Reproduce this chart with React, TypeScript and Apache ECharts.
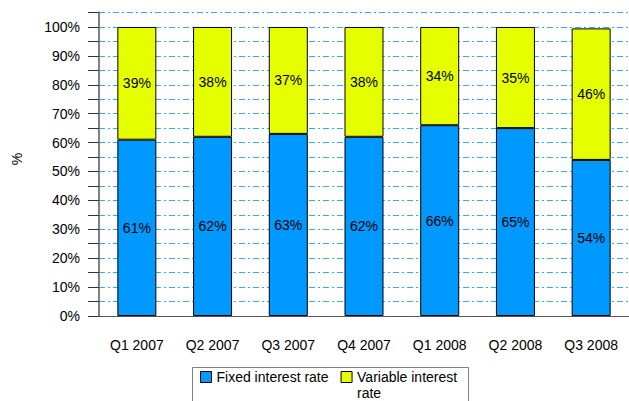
import React, { useEffect, useRef } from "react";
import * as echarts from "echarts";

const categories = ["Q1 2007", "Q2 2007", "Q3 2007", "Q4 2007", "Q1 2008", "Q2 2008", "Q3 2008"];
const fixedRate = [61, 62, 63, 62, 66, 65, 54];
const variableRate = [39, 38, 37, 38, 34, 35, 45.5];
const seriesNames = ["Fixed interest rate", "Variable interest rate"];
const legendLines: Record<string, string> = {
  "Fixed interest rate": "Fixed interest rate",
  "Variable interest rate": "Variable interest",
};
const legendWrapLine = "rate";
const yAxisTitle = "%";

const FONT = "'Liberation Sans', Arial, sans-serif";

export default function App() {
  const ref = useRef<HTMLDivElement>(null);
  useEffect(() => {
    if (!ref.current) return;
    const chart = echarts.init(ref.current, undefined, { renderer: "svg" });
    const labelCfg = {
      show: true,
      position: "inside",
      color: "#000",
      fontSize: 14,
      fontFamily: FONT,
      formatter: (p: any) => Math.round(p.value) + "%",
    };
    chart.setOption({
      animation: false,
      textStyle: { fontFamily: FONT },
      grid: { left: 99, right: -9, top: 12.5, bottom: 85, containLabel: false },
      graphic: [
        {
          type: "rect",
          shape: { x: 192.5, y: 367.5, width: 276, height: 60 },
          style: { fill: "none", stroke: "#808080", lineWidth: 1 },
          silent: true,
        },
        {
          type: "text",
          x: 357,
          y: 393,
          style: {
            text: legendWrapLine,
            fontSize: 14,
            fontFamily: FONT,
            fill: "#000",
            align: "left",
            verticalAlign: "middle",
          },
        },
        {
          type: "text",
          x: 17,
          y: 159,
          rotation: Math.PI / 2,
          style: {
            text: yAxisTitle,
            fontSize: 14,
            fontFamily: FONT,
            fill: "#000",
            align: "center",
            verticalAlign: "middle",
          },
        },
      ],
      legend: {
        left: 200,
        top: 370,
        orient: "horizontal",
        data: seriesNames,
        icon: "rect",
        itemWidth: 11,
        itemHeight: 11,
        itemGap: 12,
        padding: 0,
        textStyle: { fontSize: 14, fontFamily: FONT, color: "#000" },
        itemStyle: { borderColor: "#000", borderWidth: 1 },
        formatter: (name: string) => legendLines[name] ?? name,
      },
      xAxis: {
        type: "category",
        data: categories,
        axisLine: { lineStyle: { color: "#555", width: 1 } },
        axisTick: { alignWithLabel: true, length: 10, lineStyle: { color: "#000" } },
        axisLabel: { fontSize: 14, color: "#000", fontFamily: FONT, margin: 22 },
      },
      yAxis: {
        type: "value",
        min: 0,
        max: 105,
        interval: 5,
        axisLine: { show: true, lineStyle: { color: "#808080", width: 2 } },
        axisTick: { show: true, length: 11, lineStyle: { color: "#333" } },
        axisLabel: {
          fontSize: 14,
          color: "#000",
          fontFamily: FONT,
          margin: 19,
          formatter: (v: number) => (v % 10 === 0 ? v + "%" : ""),
        },
        splitLine: { show: true, lineStyle: { color: "#33aaf5", width: 1, type: [6, 3, 2, 3] } },
      },
      series: [
        {
          name: seriesNames[0],
          type: "bar",
          stack: "total",
          data: fixedRate,
          barWidth: 39,
          itemStyle: { color: "#0099ff", borderColor: "#000", borderWidth: 1 },
          label: labelCfg,
        },
        {
          name: seriesNames[1],
          type: "bar",
          stack: "total",
          data: variableRate,
          barWidth: 39,
          itemStyle: { color: "#e6ff00", borderColor: "#000", borderWidth: 1 },
          label: labelCfg,
        },
      ],
    });
    return () => chart.dispose();
  }, []);
  return <div ref={ref} style={{ width: 629, height: 401, position: "absolute", left: 0, top: 0 }} />;
}
